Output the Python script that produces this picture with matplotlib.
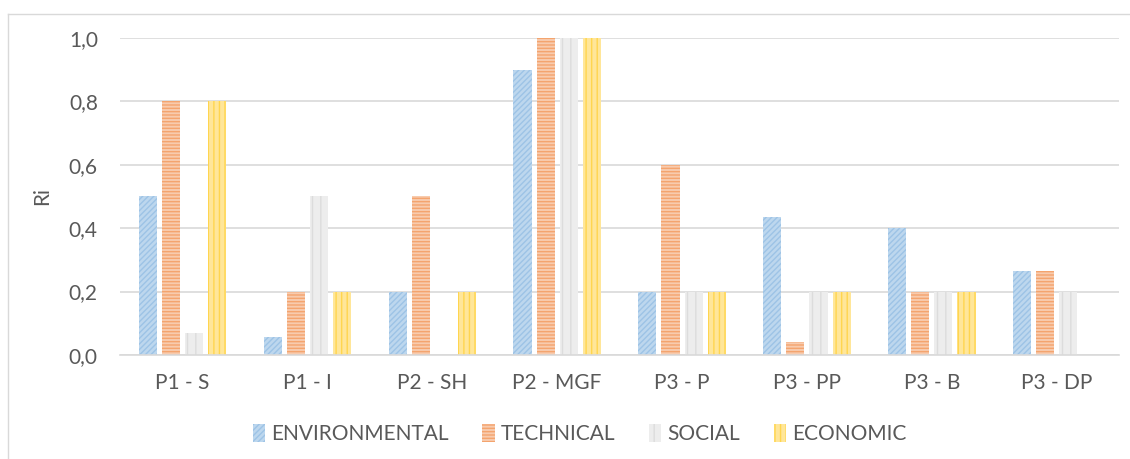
import matplotlib
matplotlib.use("Agg")
import matplotlib.pyplot as plt
from matplotlib.lines import Line2D
from matplotlib.ticker import FuncFormatter
import numpy as np

categories = ["P1 - S", "P1 - I", "P2 - SH", "P2 - MGF", "P3 - P", "P3 - PP", "P3 - B", "P3 - DP"]
environmental = [0.50, 0.057, 0.20, 0.90, 0.20, 0.434, 0.40, 0.264]
technical = [0.80, 0.20, 0.50, 1.00, 0.60, 0.042, 0.20, 0.264]
social = [0.07, 0.50, 0.0, 1.00, 0.20, 0.20, 0.20, 0.20]
economic = [0.80, 0.20, 0.20, 1.00, 0.20, 0.20, 0.20, 0.0]
series_names = ["ENVIRONMENTAL", "TECHNICAL", "SOCIAL", "ECONOMIC"]

plt.rcParams["font.family"] = ["Lato", "DejaVu Sans"]
plt.rcParams["hatch.linewidth"] = 1.0

TEXT = "#595959"
FS = 15

fig = plt.figure(figsize=(11.30, 4.59), dpi=100)
# chart-area frame (top and left edges)
fx0, fy1 = 7.5 / 1130, 1 - 13.5 / 459
fig.lines.append(Line2D([fx0, fx0], [0, fy1], transform=fig.transFigure,
                        color="#D9D9D9", linewidth=1.0))
fig.lines.append(Line2D([fx0, 1], [fy1, fy1], transform=fig.transFigure,
                        color="#D9D9D9", linewidth=1.0))

ax = fig.add_axes([0.1062, 0.2266, 0.8842, 0.6906])

styles = [
    dict(facecolor="#BDD7EE", edgecolor="#9DC3E6", hatch="//////"),
    dict(facecolor="#F8CBAD", edgecolor="#F4A46E", hatch="-----"),
    dict(facecolor="#EDEDED", edgecolor="#DCDCDC", hatch="||"),
    dict(facecolor="#FFE699", edgecolor="#FFD54F", hatch="|||"),
]
data = [environmental, technical, social, economic]
x = np.arange(len(categories))
step = 0.185
width = 0.145
for i, (vals, st, name) in enumerate(zip(data, styles, series_names)):
    ax.bar(x + (i - 1.5) * step, vals, width=width, linewidth=0, label=name, **st)

ax.set_xlim(-0.5, len(categories) - 0.5)
ax.set_ylim(0, 1.0)
ax.set_yticks(np.arange(0, 1.01, 0.2))
ax.yaxis.set_major_formatter(FuncFormatter(lambda v, p: f"{v:.1f}".replace(".", ",")))
ax.set_xticks(x)
ax.set_xticklabels(categories)
ax.grid(axis="y", color="#D9D9D9", linewidth=1.2)
ax.set_axisbelow(True)
for s in ["top", "right", "left"]:
    ax.spines[s].set_visible(False)
ax.spines["bottom"].set_color("#D9D9D9")
ax.spines["bottom"].set_linewidth(1.2)
ax.tick_params(axis="both", length=0, labelsize=FS, colors=TEXT)
ax.tick_params(axis="x", pad=13)
ax.tick_params(axis="y", pad=16)
ax.set_ylabel("Ri", fontsize=FS, color=TEXT, labelpad=12)

leg = fig.legend(loc="center", bbox_to_anchor=(0.513, 0.054), ncol=4, frameon=False,
                 fontsize=FS, handlelength=0.6, handleheight=0.9, handletextpad=0.3,
                 columnspacing=1.6)
for t in leg.get_texts():
    t.set_color(TEXT)

fig.savefig("out.png", dpi=100)
